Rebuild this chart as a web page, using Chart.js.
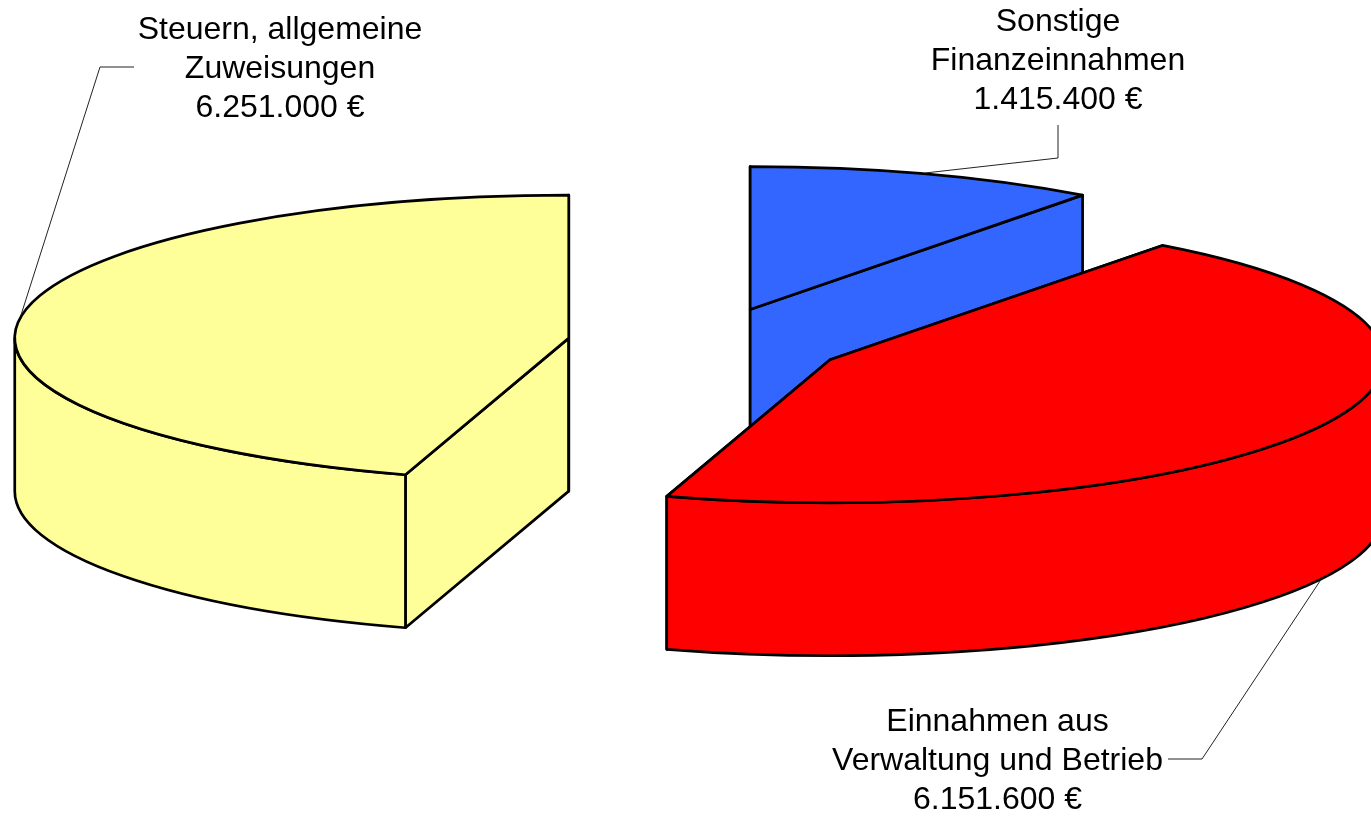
<!DOCTYPE html>
<html>
<head>
<meta charset="utf-8">
<title>Einnahmen</title>
<script src="https://cdn.jsdelivr.net/npm/chart.js@4"></script>
<style>
  html, body { margin: 0; padding: 0; background: #fff; overflow: hidden; }
  canvas { display: block; }
</style>
</head>
<body>
<canvas id="pie" width="1371" height="816"></canvas>
<script>
const categories = [
  ["Sonstige", "Finanzeinnahmen"],
  ["Einnahmen aus", "Verwaltung und Betrieb"],
  ["Steuern, allgemeine", "Zuweisungen"]
];
const amounts = [1415400, 6151600, 6251000];
const sliceColors = ["#3366ff", "#ff0000", "#ffff99"];

// look of the fake 3D pie
const squash = 0.258;
const depth = 153;
const explode = 139;

// label placement, same order as categories
const labelAnchors = [
  { x: 1058, y: 31 },
  { x: 997.5, y: 731 },
  { x: 280, y: 39 }
];
const leaders = [
  [[1058, 125], [1058, 158], [925, 173]],
  [[1168, 759], [1202, 759], [1322, 578]],
  [[134, 67], [100, 67], [21, 315]]
];

function sliceCenter(arc) {
  const mid = (arc.startAngle + arc.endAngle) / 2;
  const off = arc.options.offset;
  return {
    x: arc.x + Math.cos(mid) * off,
    y: arc.y + Math.sin(mid) * off * squash
  };
}

function radialWall(ctx, c, r, angle) {
  const ex = c.x + Math.cos(angle) * r;
  const ey = c.y + Math.sin(angle) * r * squash;
  ctx.beginPath();
  ctx.moveTo(c.x, c.y);
  ctx.lineTo(ex, ey);
  ctx.lineTo(ex, ey + depth);
  ctx.lineTo(c.x, c.y + depth);
  ctx.closePath();
  ctx.fill();
  ctx.stroke();
}

function outerWall(ctx, c, r, start, end) {
  // only the part of the rim that faces the viewer
  const from = Math.max(start, 0);
  const to = Math.min(end, Math.PI);
  if (from >= to) return;
  ctx.beginPath();
  ctx.ellipse(c.x, c.y, r, r * squash, 0, from, to);
  ctx.ellipse(c.x, c.y + depth, r, r * squash, 0, to, from, true);
  ctx.closePath();
  ctx.fill();
  ctx.stroke();
}

const pie3d = {
  id: "pie3d",
  beforeDatasetDraw(chart, args) {
    const ctx = chart.ctx;
    const arcs = chart.getDatasetMeta(args.index).data;
    ctx.save();
    ctx.strokeStyle = "#000";
    ctx.lineWidth = 2.7;
    ctx.lineJoin = "round";
    arcs.forEach(arc => {
      const c = sliceCenter(arc);
      const r = arc.outerRadius;
      ctx.fillStyle = arc.options.backgroundColor;
      radialWall(ctx, c, r, arc.startAngle);
      radialWall(ctx, c, r, arc.endAngle);
      outerWall(ctx, c, r, arc.startAngle, arc.endAngle);
      ctx.beginPath();
      ctx.moveTo(c.x, c.y);
      ctx.ellipse(c.x, c.y, r, r * squash, 0, arc.startAngle, arc.endAngle);
      ctx.closePath();
      ctx.fill();
      ctx.stroke();
    });
    ctx.restore();
    return false; // the flat arcs are replaced by the ones above
  },
  afterDraw(chart) {
    const ctx = chart.ctx;
    ctx.save();
    ctx.strokeStyle = "#222";
    ctx.lineWidth = 1;
    leaders.forEach(pts => {
      ctx.beginPath();
      pts.forEach((p, i) => i ? ctx.lineTo(p[0], p[1]) : ctx.moveTo(p[0], p[1]));
      ctx.stroke();
    });
    ctx.fillStyle = "#000";
    ctx.font = "32px 'Liberation Sans'";
    ctx.textAlign = "center";
    ctx.textBaseline = "alphabetic";
    categories.forEach((lines, i) => {
      const text = lines.concat(amounts[i].toLocaleString("de-DE") + " €");
      text.forEach((t, k) => ctx.fillText(t, labelAnchors[i].x, labelAnchors[i].y + k * 39));
    });
    ctx.restore();
  }
};

new Chart(document.getElementById("pie"), {
  type: "pie",
  data: {
    labels: categories.map(c => c.join(" ")),
    datasets: [{
      data: amounts,
      backgroundColor: sliceColors,
      offset: explode
    }]
  },
  options: {
    responsive: false,
    animation: false,
    radius: 554,
    layout: { padding: { left: 41.4, bottom: 129 } },
    plugins: { legend: { display: false }, tooltip: { enabled: false } }
  },
  plugins: [pie3d]
});
</script>
</body>
</html>
